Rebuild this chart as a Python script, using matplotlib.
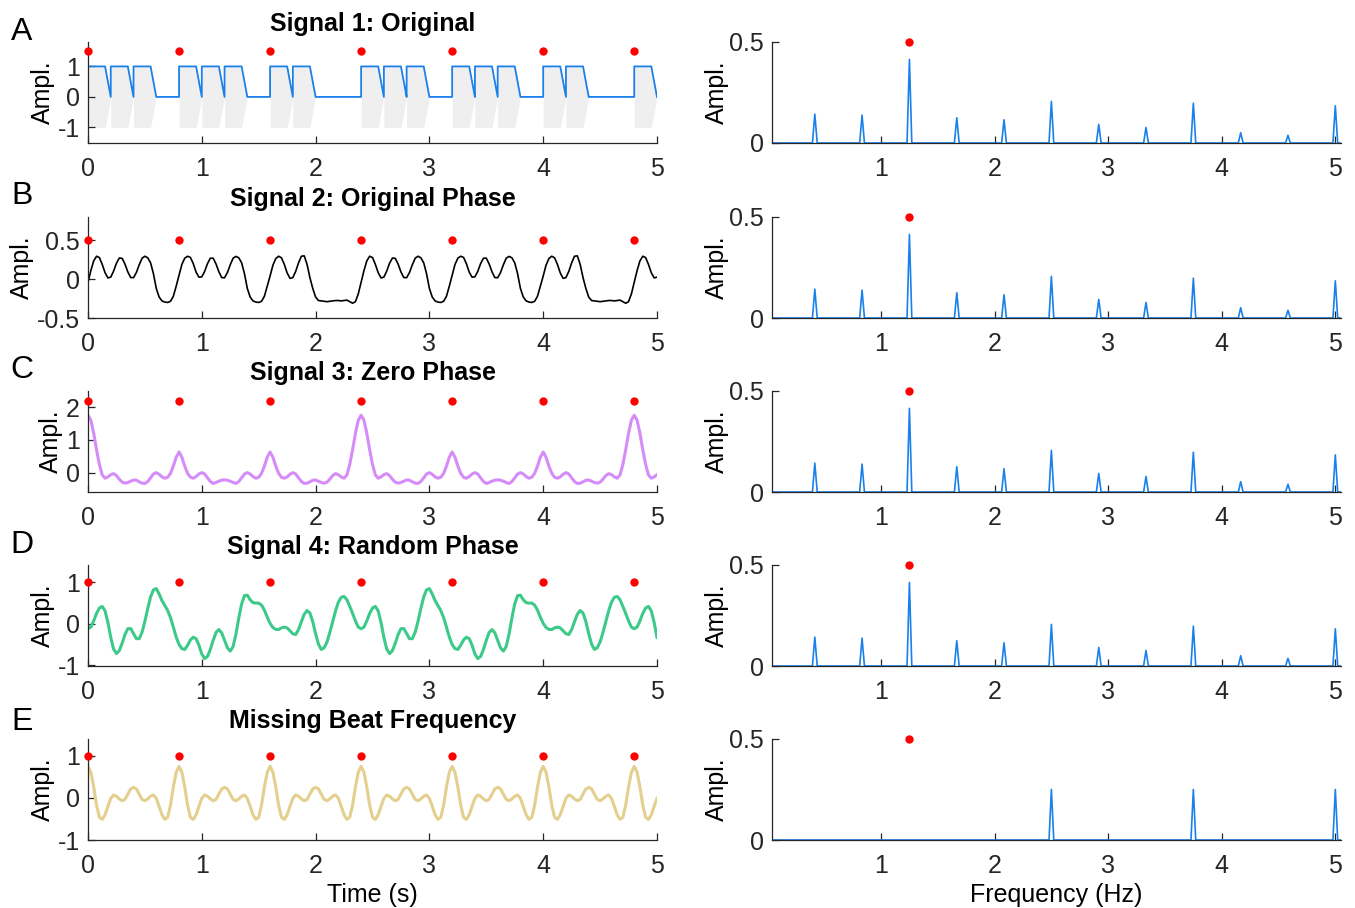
import numpy as np
import matplotlib
matplotlib.use("Agg")
import matplotlib.pyplot as plt

plt.rcParams['font.family'] = ['Liberation Sans', 'DejaVu Sans']
plt.rcParams['axes.unicode_minus'] = False

# ---------------- data ----------------
dt = 0.025
t_end = 5.0

# rhythm of signal 1 (note onsets, s)
note_on = [0, 0.2, 0.4, 0.8, 1.0, 1.2, 1.6, 1.8,
           2.4, 2.6, 2.8, 3.2, 3.4, 3.6, 4.0, 4.2, 4.8]
note_hold = 0.15
note_len = 0.2

# beat positions (s) and beat frequency (Hz)
beats = [0, 0.8, 1.6, 2.4, 3.2, 4.0, 4.8]
beat_freq = 1.25

# one 2.4 s cycle of each signal, sampled every dt
sig2_cycle = [-0.04, 0.11, 0.235, 0.295, 0.278, 0.19, 0.083, 0.016,
              0.026, 0.104, 0.205, 0.272, 0.268, 0.194, 0.093, 0.021,
              0.019, 0.085, 0.185, 0.269, 0.295, 0.275, 0.21, 0.07,
              -0.12, -0.23, -0.28, -0.295, -0.30, -0.285, -0.22, -0.09,
              0.05, 0.19, 0.27, 0.295, 0.28, 0.20, 0.09, 0.025,
              0.03, 0.10, 0.20, 0.27, 0.27, 0.195, 0.095, 0.02,
              0.018, 0.085, 0.185, 0.27, 0.293, 0.275, 0.21, 0.07,
              -0.12, -0.23, -0.28, -0.295, -0.30, -0.285, -0.22, -0.09,
              0.04, 0.18, 0.265, 0.295, 0.275, 0.19, 0.08, 0.01,
              0.02, 0.10, 0.21, 0.295, 0.30, 0.19, 0.02, -0.12,
              -0.23, -0.275, -0.28, -0.285, -0.29, -0.285, -0.28, -0.275,
              -0.275, -0.28, -0.275, -0.27, -0.29, -0.31, -0.29, -0.19]

sig3_cycle = [1.75, 1.60, 1.20, 0.70, 0.25, -0.07, -0.17, -0.13,
              -0.06, -0.03, -0.09, -0.20, -0.29, -0.32, -0.30, -0.26,
              -0.225, -0.23, -0.28, -0.32, -0.33, -0.27, -0.16, -0.04,
              0.00, -0.05, -0.13, -0.17, -0.14, -0.02, 0.20, 0.47,
              0.63, 0.47, 0.20, -0.02, -0.14, -0.17, -0.12, -0.04,
              0.00, -0.04, -0.16, -0.27, -0.33, -0.30, -0.26, -0.23,
              -0.22, -0.23, -0.26, -0.30, -0.33, -0.27, -0.16, -0.04,
              0.00, -0.04, -0.12, -0.17, -0.14, -0.02, 0.20, 0.47,
              0.63, 0.47, 0.20, -0.02, -0.14, -0.17, -0.13, -0.05,
              0.00, -0.04, -0.16, -0.27, -0.33, -0.32, -0.28, -0.23,
              -0.225, -0.26, -0.30, -0.32, -0.29, -0.20, -0.09, -0.03,
              -0.06, -0.13, -0.17, -0.07, 0.25, 0.70, 1.20, 1.60]

sig4_cycle = [-0.12, -0.08, 0.07, 0.25, 0.38, 0.42, 0.31, 0.03,
              -0.33, -0.61, -0.72, -0.65, -0.47, -0.26, -0.12, -0.115,
              -0.24, -0.36, -0.36, -0.205, 0.06, 0.37, 0.65, 0.82,
              0.85, 0.72, 0.56, 0.44, 0.32, 0.15, -0.08, -0.32,
              -0.50, -0.60, -0.62, -0.52, -0.39, -0.325, -0.36, -0.52,
              -0.73, -0.84, -0.79, -0.62, -0.40, -0.21, -0.14, -0.22,
              -0.40, -0.58, -0.66, -0.55, -0.25, 0.14, 0.48, 0.68,
              0.69, 0.58, 0.51, 0.50, 0.50, 0.45, 0.33, 0.16,
              0.01, -0.09, -0.135, -0.14, -0.10, -0.08, -0.10, -0.17,
              -0.24, -0.26, -0.14, 0.05, 0.23, 0.32, 0.26, 0.05,
              -0.24, -0.49, -0.62, -0.58, -0.44, -0.21, 0.05, 0.31,
              0.52, 0.64, 0.66, 0.58, 0.42, 0.25, 0.07, -0.08]

# one 0.8 s cycle of the missing-beat signal
sig5_cycle = [0.75, 0.61, 0.26, -0.17, -0.46, -0.51, -0.40, -0.20,
              -0.01, 0.07, 0.04, -0.024, -0.068, -0.035, 0.09, 0.215,
              0.25, 0.215, 0.09, -0.035, -0.068, -0.024, 0.04, 0.07,
              -0.01, -0.20, -0.40, -0.51, -0.46, -0.17, 0.26, 0.61]

# spectra: harmonic frequencies (Hz) and amplitudes
harm_freq = [0.417, 0.833, 1.25, 1.667, 2.083, 2.5, 2.917, 3.333,
             3.75, 4.167, 4.583, 5.0]
harm_amp = [0.143, 0.138, 0.414, 0.125, 0.115, 0.206, 0.092, 0.077,
            0.197, 0.051, 0.038, 0.184]
miss_freq = [2.5, 3.75, 5.0]
miss_amp = [0.25, 0.25, 0.25]
df = 0.021                      # bin width of the spectrum

titles = ['Signal 1: Original', 'Signal 2: Original Phase',
          'Signal 3: Zero Phase', 'Signal 4: Random Phase',
          'Missing Beat Frequency']
letters = ['A', 'B', 'C', 'D', 'E']

# ---------------- build curves ----------------
t = np.arange(0, t_end + dt / 2, dt)
n = len(t)
sig2 = np.tile(sig2_cycle, 3)[:n]
sig3 = np.tile(sig3_cycle, 3)[:n]
sig4 = np.tile(sig4_cycle, 3)[:n]
sig5 = np.tile(sig5_cycle, 7)[:n]

env_t, env_y = [], []
last = 0
for on in note_on:
    if on > last:
        env_t += [last, on]
        env_y += [0, 0]
    env_t += [on, on, on + note_hold, on + note_len]
    env_y += [0, 1, 1, 0]
    last = on + note_len
env_t = np.array(env_t)
env_y = np.array(env_y)


def spectrum_line(freqs, amps, lo=0.04, hi=5.05):
    x, y = [lo], [0]
    for f, a in zip(freqs, amps):
        x += [f - df, f, f + df]
        y += [0, a, 0]
    x.append(hi)
    y.append(0)
    return x, y


# ---------------- figure ----------------
W, H = 1355, 908
fig = plt.figure(figsize=(W / 100, H / 100), dpi=100)

bottoms = [143, 318, 492, 666, 840]
letter_y = [32, 196, 370, 545, 722]
ax_h = 101
blue = '#1a80ea'
dark = '#262626'

lims = [(-1.51, 1.8), (-0.5, 0.8), (-0.59, 2.49), (-1.02, 1.42), (-1.0, 1.4)]
yticks = [[-1, 0, 1], [-0.5, 0, 0.5], [0, 1, 2], [-1, 0, 1], [-1, 0, 1]]
dot_y = [1.5, 0.5, 2.2, 1.0, 1.0]


def style(ax):
    for s in ['top', 'right']:
        ax.spines[s].set_visible(False)
    for s in ['left', 'bottom']:
        ax.spines[s].set_color(dark)
        ax.spines[s].set_linewidth(0.9)
    ax.tick_params(direction='in', length=5, width=0.9, colors=dark,
                   labelsize=18)
    ax.tick_params(axis='x', pad=10)
    ax.tick_params(axis='y', pad=6)


for i in range(5):
    b = 1 - bottoms[i] / H
    axl = fig.add_axes([88 / W, b, 569 / W, ax_h / H])
    axr = fig.add_axes([772 / W, b, 569 / W, ax_h / H])

    # --- time domain
    if i == 0:
        axl.fill_between(env_t, -env_y, env_y, color='#efefef', lw=0)
        axl.plot(env_t, env_y, color=blue, lw=1.3)
    elif i == 1:
        axl.plot(t, sig2, color='black', lw=1.2)
    elif i == 2:
        axl.plot(t, sig3, color='#d68cf8', lw=2.2)
    elif i == 3:
        axl.plot(t, sig4, color='#3cc98a', lw=2.2)
    else:
        axl.plot(t, sig5, color='#e3cf8e', lw=2.2)
    axl.plot(beats, [dot_y[i]] * len(beats), 'o', color='red', ms=6,
             mec='none', clip_on=False, zorder=5)
    axl.set_xlim(0, 5)
    axl.set_ylim(*lims[i])
    axl.set_xticks([0, 1, 2, 3, 4, 5])
    axl.set_yticks(yticks[i])
    axl.set_yticklabels([f'{v:g}' for v in yticks[i]])
    axl.set_ylabel('Ampl.', fontsize=18, labelpad=2)
    axl.set_title(titles[i], fontsize=18, fontweight='bold', pad=8)
    style(axl)

    # --- spectrum
    if i < 4:
        sx, sy = spectrum_line(harm_freq, harm_amp)
    else:
        sx, sy = spectrum_line(miss_freq, miss_amp)
    axr.plot(sx, sy, color=blue, lw=1.2)
    axr.plot([beat_freq], [0.5], 'o', color='red', ms=6, mec='none',
             clip_on=False, zorder=5)
    axr.set_xlim(0.04, 5.05)
    axr.set_ylim(0, 0.5)
    axr.set_xticks([1, 2, 3, 4, 5])
    axr.set_yticks([0, 0.5])
    axr.set_yticklabels(['0', '0.5'])
    axr.set_ylabel('Ampl.', fontsize=18, labelpad=0)
    style(axr)

    fig.text(22 / W, 1 - letter_y[i] / H, letters[i], fontsize=23,
             ha='center', va='center')

    if i == 4:
        axl.set_xlabel('Time (s)', fontsize=18, labelpad=4)
        axr.set_xlabel('Frequency (Hz)', fontsize=18, labelpad=4)

fig.savefig('out.png', dpi=100)
